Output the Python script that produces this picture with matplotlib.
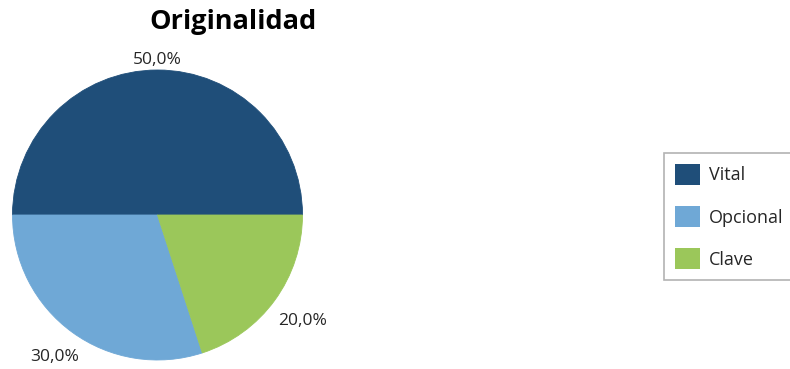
import matplotlib
matplotlib.use("Agg")
import matplotlib.pyplot as plt
from matplotlib.patches import Patch
import numpy as np

categories = ["Vital", "Opcional", "Clave"]
values = [50.0, 30.0, 20.0]
colors = ["#1F4E79", "#6FA8D6", "#9BC75A"]
label_texts = ["50,0%", "30,0%", "20,0%"]
label_dist = [1.07, 1.21, 1.24]

plt.rcParams['font.family'] = ['Open Sans', 'DejaVu Sans']

W, H = 790, 369
fig = plt.figure(figsize=(W / 100, H / 100), dpi=100)
ax = fig.add_axes([12.5 / W, 1 - 360 / H, 290 / W, 290 / H])
wedges, _ = ax.pie(values, colors=colors, startangle=0, counterclock=True,
                   wedgeprops=dict(linewidth=0.6))
for w, c in zip(wedges, colors):
    w.set_edgecolor(c)
ax.set_aspect('equal')
ax.set_xlim(-1, 1)
ax.set_ylim(-1, 1)

for w, t, d in zip(wedges, label_texts, label_dist):
    ang = np.deg2rad((w.theta1 + w.theta2) / 2)
    ax.text(d * np.cos(ang), d * np.sin(ang), t, ha='center', va='center',
            fontsize=12.5, color='#262626', clip_on=False)

fig.text(233 / W, 1 - 22 / H, "Originalidad", ha='center', va='center',
         fontsize=19.5, fontweight='bold', color='black')

handles = [Patch(facecolor=c, edgecolor='none', label=l) for c, l in zip(colors, categories)]
leg = fig.legend(handles=handles, loc='center left',
                 bbox_to_anchor=(664 / W, 1 - 216.5 / H),
                 frameon=True, fancybox=False, fontsize=13,
                 handlelength=1.38, handleheight=1.38, handletextpad=0.5,
                 labelspacing=1.2, borderpad=0.6, borderaxespad=0)
leg.get_frame().set_edgecolor('#A0A0A0')
leg.get_frame().set_linewidth(1.2)
for t in leg.get_texts():
    t.set_color('#262626')

fig.savefig("out.png", dpi=100)
